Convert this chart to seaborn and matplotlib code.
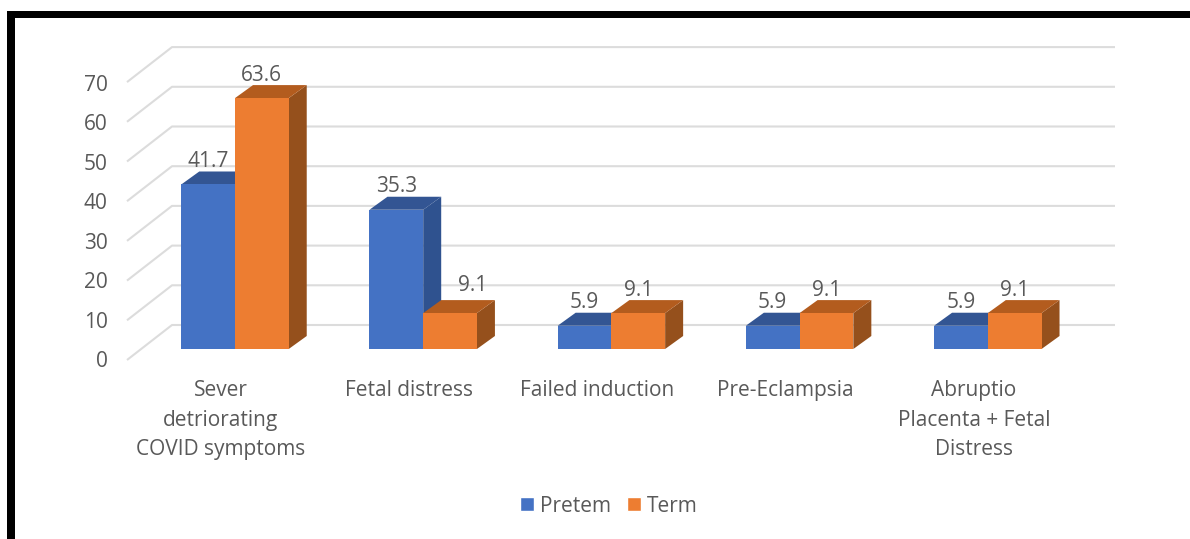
import seaborn as sns
import matplotlib.pyplot as plt
import matplotlib.transforms as mtrans
from matplotlib.patches import Polygon, Rectangle
import pandas as pd

# Data
categories = ['Sever\ndetriorating\nCOVID symptoms', 'Fetal distress', 'Failed induction',
              'Pre-Eclampsia', 'Abruptio\nPlacenta + Fetal\nDistress']
pretem = [41.7, 35.3, 5.9, 5.9, 5.9]
term = [63.6, 9.1, 9.1, 9.1, 9.1]
yticks = [0, 10, 20, 30, 40, 50, 60, 70]

W, H = 1190, 539
TEXT = '#595959'
GRID = '#dcdcdc'
FONT = 'Open Sans'
SIZE = 15

data = pd.DataFrame({
    'cause': categories * 2,
    'group': ['Pretem'] * 5 + ['Term'] * 5,
    'value': pretem + term,
})

sns.set_theme(style='white')
plt.rcParams['font.family'] = [FONT, 'DejaVu Sans']

fig = plt.figure(figsize=(W / 100, H / 100), dpi=100, facecolor='white')

# axes in pixels: value 0 of the bar plane sits on the bottom edge
left, right, bottom, top = 127, 1115, 349, 30
ax = fig.add_axes([left / W, 1 - bottom / H, (right - left) / W, (bottom - top) / H])
ax.patch.set_alpha(0)

sns.barplot(data=data, x='cause', y='value', hue='group', ax=ax, width=0.571, gap=0,
            palette={'Pretem': '#4472c4', 'Term': '#ed7d31'}, saturation=1, errorbar=None)

px_x = 188.2   # pixels per category
px_y = 3.945   # pixels per value unit on the bar plane
wall_scale = 3.97 / px_y  # the wall is drawn a little larger
ax.set_xlim((left - 235) / px_x, (right - 235) / px_x)
ax.set_ylim(0, (bottom - top) / px_y)
sns.despine(ax=ax, left=True, bottom=True)
ax.set_xlabel('')
ax.set_ylabel('')

# back wall gridlines with the short floor diagonal at the left
wall_dx = (172 - left) / px_x
wall_dy = 24 / px_y
front_dy = -11 / px_y
x0, x1 = ax.get_xlim()
for t in yticks:
    tw = t * wall_scale
    ax.plot([x0, x0 + wall_dx, x1], [tw + front_dy, tw + wall_dy, tw + wall_dy], color=GRID,
            lw=1.5, zorder=0.5, clip_on=False, solid_capstyle='butt')

# fake 3D depth on every bar
dx = 18 / px_x
dy = 13 / px_y
shades = [('#2f528f', '#335593'), ('#95501c', '#b35c1e')]
for n, cont in enumerate(ax.containers):
    side_c, top_c = shades[n]
    for i, bar in enumerate(cont):
        xa, w, h = bar.get_x(), bar.get_width(), bar.get_height()
        xb = xa + w
        base = 1 + n * 0.2
        bar.set_zorder(base + 0.1)
        bar.set_linewidth(0)
        ax.add_patch(Polygon([(xb, 0), (xb + dx, dy), (xb + dx, h + dy), (xb, h)],
                             facecolor=side_c, lw=0, zorder=base, clip_on=False))
        ax.add_patch(Polygon([(xa, h), (xa + dx, h + dy), (xb + dx, h + dy), (xb, h)],
                             facecolor=top_c, lw=0, zorder=base, clip_on=False))
        # the one label that was pushed aside in the original
        nudge = (23, 28) if (n == 1 and i == 1) else (0, 23)
        ax.annotate(f'{h:.1f}', (xa + w / 2, h), xytext=nudge, textcoords='offset pixels',
                    ha='center', va='center', color=TEXT, fontsize=SIZE,
                    family=[FONT, 'DejaVu Sans'], zorder=5, annotation_clip=False)

# ticks
ax.set_yticks(yticks)
ax.tick_params(axis='both', length=0, labelsize=SIZE, labelcolor=TEXT)
ax.tick_params(axis='y', pad=14)
ax.tick_params(axis='x', pad=22)
for lab in ax.get_yticklabels():
    lab.set_transform(lab.get_transform() + mtrans.ScaledTranslation(0, -10 / 100, fig.dpi_scale_trans))
for lab in ax.get_xticklabels():
    lab.set_transform(lab.get_transform() + mtrans.ScaledTranslation(-14 / 100, 0, fig.dpi_scale_trans))
    lab.set_linespacing(1.56)

# legend
sns.move_legend(ax, 'center', bbox_to_anchor=(609 / W, 1 - 506 / H),
                bbox_transform=fig.transFigure, ncol=2, frameon=False, title=None,
                handlelength=0.65, handleheight=0.65, handletextpad=0.3, columnspacing=0.8,
                fontsize=SIZE, labelcolor=TEXT)

# black picture frame, open at the bottom and right
fig.add_artist(Rectangle((7 / W, 0), 8 / W, 1 - 11 / H, transform=fig.transFigure,
                         facecolor='black', lw=0))
fig.add_artist(Rectangle((7 / W, 1 - 18 / H), 1 - 7 / W, 7 / H, transform=fig.transFigure,
                         facecolor='black', lw=0))

fig.savefig('out.png', dpi=100, facecolor='white')
